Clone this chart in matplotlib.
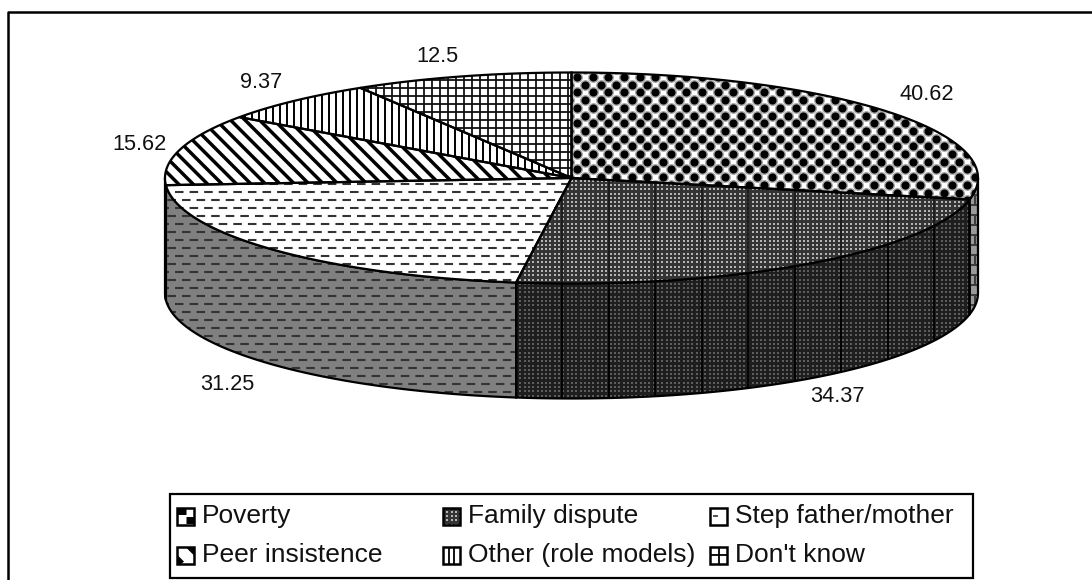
import numpy as np
import matplotlib
matplotlib.use('Agg')
import matplotlib.pyplot as plt
from matplotlib.collections import LineCollection
from matplotlib.lines import Line2D
from matplotlib.patches import Polygon, Rectangle

categories = ['Poverty', 'Family dispute', 'Step father/mother',
              'Peer insistence', 'Other (role models)', "Don't know"]
values = [40.62, 34.37, 31.25, 15.62, 9.37, 12.5]
value_labels = ['40.62', '34.37', '31.25', '15.62', '9.37', '12.5']

plt.rcParams['font.family'] = ['Liberation Sans', 'DejaVu Sans']

# pie geometry, in pixels of the image
CX, CY = 571.5, 178.0
A, B = 406.5, 105.5
DEPTH = 115.0


def ell(theta, dy=0.0):
    # theta in degrees, clockwise from 12 o'clock
    t = np.radians(theta)
    return np.column_stack([CX + A * np.sin(t), CY - B * np.cos(t) + dy])


def lines(ax, patch, segs, color, lw, dashes=None):
    lc = LineCollection(segs, colors=color, linewidths=lw, capstyle='butt')
    if dashes:
        lc.set_linestyle((0, dashes))
    ax.add_collection(lc)
    lc.set_clip_path(patch)
    lc.set_zorder(patch.get_zorder() + 0.1)


def dots(ax, patch, dx, dy, size, color, stagger=True, marker='o'):
    xs, ys = [], []
    for i, y in enumerate(np.arange(0, 580, dy)):
        off = dx / 2 if (stagger and i % 2) else 0
        for x in np.arange(off, 1092, dx):
            xs.append(x)
            ys.append(y)
    sc = ax.scatter(xs, ys, s=size, c=color, linewidths=0, marker=marker,
                    zorder=patch.get_zorder() + 0.1)
    sc.set_clip_path(patch)


def tex_poverty(ax, p):
    dots(ax, p, 15.6, 7.7, 62, '#a8a8a8')
    dots(ax, p, 15.6, 7.7, 34, '#000000')


def tex_family(ax, p, dark=False):
    dots(ax, p, 4.3, 4.3, 4, '#5e5e5e' if dark else '#b4b4b4', stagger=False, marker='s')
    segs = [[(x, 0), (x, 580)] for x in np.arange(516 + 46, 1000, 46.5)]
    lines(ax, p, segs, '#000000' if dark else '#1a1a1a', 1.3)


def tex_step(ax, p):
    segs1 = [[(0, y), (1092, y)] for y in np.arange(0, 580, 16)]
    segs2 = [[(7.25, y), (1092, y)] for y in np.arange(8, 580, 16)]
    lines(ax, p, segs1, '#333333', 1.5, (4.1, 2.9))
    lines(ax, p, segs2, '#333333', 1.5, (4.1, 2.9))


def tex_peer(ax, p):
    segs = [[(x, 0), (x + 580, 580)] for x in np.arange(-600, 1092, 14.5)]
    lines(ax, p, segs, '#000000', 2.5)


def tex_other(ax, p):
    segs = [[(x, 0), (x, 580)] for x in np.arange(0, 1092, 7)]
    lines(ax, p, segs, '#000000', 1.4)


def tex_dont(ax, p):
    segs = [[(x, 0), (x, 580)] for x in np.arange(0, 1092, 8)]
    segs += [[(0, y), (1092, y)] for y in np.arange(0, 580, 8)]
    lines(ax, p, segs, '#111111', 1.3)


fig = plt.figure(figsize=(10.92, 5.8), dpi=100)
ax = fig.add_axes([0, 0, 1, 1])
ax.set_xlim(0, 1092)
ax.set_ylim(580, 0)
ax.axis('off')

# the outer frame only shows on the top and the left
ax.add_line(Line2D([8, 8, 1092], [580, 12, 12], color='black', lw=1.8, zorder=0))

total = sum(values)
edges = np.concatenate([[0], np.cumsum(values) / total * 360])

top_fill = ['white', '#343434', 'white', 'white', 'white', 'white']
side_fill = ['#3c3c3c', '#1e1e1e', '#808080', '#808080', '#808080', '#808080']
top_tex = [tex_poverty, tex_family, tex_step, tex_peer, tex_other, tex_dont]

# side walls first, only the front half of the cylinder shows
for i in range(len(values)):
    a0, a1 = max(edges[i], 90), min(edges[i + 1], 270)
    if a1 <= a0:
        continue
    th = np.linspace(a0, a1, 120)
    pts = np.vstack([ell(th), ell(th[::-1], DEPTH)])
    p = Polygon(pts, closed=True, fc=side_fill[i], ec='none', zorder=2)
    ax.add_patch(p)
    if i == 0:
        dots(ax, p, 10, 10, 26, '#9a9a9a', marker='s')
    elif i == 1:
        tex_family(ax, p, dark=True)
    elif i == 2:
        tex_step(ax, p)
    ax.add_patch(Polygon(pts, closed=True, fc='none', ec='black', lw=1.6, zorder=3))

# top face
for i in range(len(values)):
    th = np.linspace(edges[i], edges[i + 1], 120)
    pts = np.vstack([[CX, CY], ell(th)])
    p = Polygon(pts, closed=True, fc=top_fill[i], ec='none', zorder=4)
    ax.add_patch(p)
    top_tex[i](ax, p)
    ax.add_patch(Polygon(pts, closed=True, fc='none', ec='black', lw=1.6, zorder=5))

label_pos = [(927, 95), (837, 396), (227, 384), (140, 145), (261, 83), (437, 56)]
for txt, (x, y) in zip(value_labels, label_pos):
    ax.text(x, y, txt, ha='center', va='center', fontsize=15.7, color='#111111', zorder=6)

# legend
ax.add_patch(Rectangle((170, 494), 803, 84, fc='white', ec='black', lw=1.6, zorder=6))
col_x = [177, 443, 710]
row_y = [516, 555]
SW = 17
for i, name in enumerate(categories):
    x = col_x[i % 3]
    y = row_y[i // 3]
    p = Rectangle((x, y - SW / 2), SW, SW, fc=top_fill[i], ec='none', zorder=7)
    ax.add_patch(p)
    if i == 0:
        lines(ax, p, [[(x, y - 5), (x + 9, y - 5)], [(x + 9, y + 4), (x + SW, y + 4)]], '#000000', 5)
    elif i == 1:
        dots(ax, p, 4.3, 4.3, 4, '#b4b4b4', stagger=False, marker='s')
    elif i == 2:
        lines(ax, p, [[(x + 3, y), (x + 8, y)]], '#333333', 1.2)
    elif i == 3:
        lines(ax, p, [[(x + k, y - SW / 2), (x + k + SW, y + SW / 2)] for k in (-12, 12)], '#000000', 4)
    elif i == 4:
        lines(ax, p, [[(x + k, y - SW / 2), (x + k, y + SW / 2)] for k in (6, 11)], '#000000', 1.3)
    else:
        lines(ax, p, [[(x + SW / 2, y - SW / 2), (x + SW / 2, y + SW / 2)],
                      [(x, y), (x + SW, y)]], '#000000', 1.3)
    ax.add_patch(Rectangle((x, y - SW / 2), SW, SW, fc='none', ec='black', lw=1.8, zorder=8))
    ax.text(x + 25, y, name, ha='left', va='center', fontsize=19, color='#111111', zorder=8)

fig.savefig('out.png', dpi=100)
